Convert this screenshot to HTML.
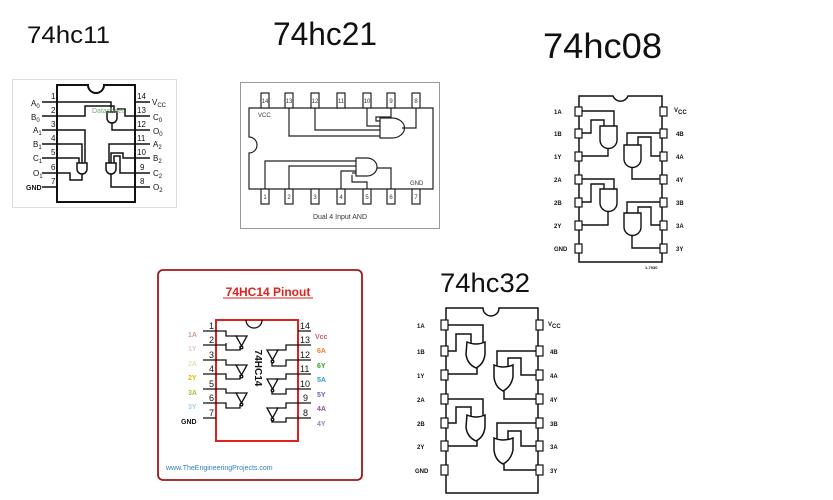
<!DOCTYPE html>
<html><head><meta charset="utf-8"><style>
html,body{margin:0;padding:0;background:#fff;}
svg{display:block;}
text{font-family:"Liberation Sans",sans-serif;}
</style></head><body>
<svg width="833" height="500" viewBox="0 0 833 500" xmlns="http://www.w3.org/2000/svg">
<text x="27" y="43" font-size="24" textLength="83" lengthAdjust="spacingAndGlyphs" fill="#111">74hc11</text>
<text x="273" y="45" font-size="32" textLength="104" lengthAdjust="spacingAndGlyphs" fill="#111">74hc21</text>
<text x="543" y="58" font-size="35" textLength="119" lengthAdjust="spacingAndGlyphs" fill="#111">74hc08</text>
<text x="440" y="292" font-size="27" textLength="90" lengthAdjust="spacingAndGlyphs" fill="#111">74hc32</text>

<rect x="12.5" y="79.5" width="164" height="128" fill="none" stroke="#ddd" stroke-width="1"/>
<g stroke="#111" stroke-width="2" fill="none">
<path d="M57,85 H88 A8,8 0 0 0 104,85 H135 V202 H57 Z"/>
</g>
<g stroke="#111" stroke-width="1.5" fill="none">
<path d="M42,102H57 M42,116H57 M42,130H57 M42,144H57 M42,158H57 M42,173H57 M42,187H57"/>
<path d="M135,102H150 M135,116H150 M135,130H150 M135,144H150 M135,158H150 M135,173H150 M135,187H150"/>
<path d="M107,112 h10 v6 a5,5 0 0 1 -10,0 z"/>
<path d="M57,102 H111 V112 M57,116 H85 V106 H114 V112 M117,109 H125 V116 H135 M112,123 V130 H135"/>
<path d="M77,163 h10 v6 a5,5 0 0 1 -10,0 z"/>
<path d="M57,130 H85 V163 M57,144 H82 V163 M57,158 H79 V163 M82,174 V180 H70 V173 H57"/>
<path d="M106,163 h10 v6 a5,5 0 0 1 -10,0 z"/>
<path d="M135,144 H109 V163 M111,163 V153 H123 V158 H135 M114,163 V156 H120 V173 H135 M111,174 V187 H135"/>
</g>
<text x="92" y="113" font-size="7" fill="#7a7" >Datasheet</text>
<g font-size="8" fill="#111">
<text x="51" y="99">1</text><text x="51" y="113">2</text><text x="51" y="127">3</text><text x="51" y="141">4</text><text x="51" y="155">5</text><text x="51" y="170">6</text><text x="51" y="184">7</text>
<text x="137" y="99">14</text><text x="137" y="113">13</text><text x="137" y="127">12</text><text x="137" y="141">11</text><text x="137" y="155">10</text><text x="140" y="170">9</text><text x="140" y="184">8</text>
<text x="31" y="106">A<tspan font-size="6" dy="2">0</tspan></text>
<text x="31" y="120">B<tspan font-size="6" dy="2">0</tspan></text>
<text x="33" y="133">A<tspan font-size="6" dy="2">1</tspan></text>
<text x="33" y="147">B<tspan font-size="6" dy="2">1</tspan></text>
<text x="33" y="161">C<tspan font-size="6" dy="2">1</tspan></text>
<text x="33" y="176">O<tspan font-size="6" dy="2">1</tspan></text>
<text x="26" y="190" font-size="7" font-weight="bold">GND</text>
<text x="152" y="105">V<tspan font-size="6" dy="2">CC</tspan></text>
<text x="153" y="120">C<tspan font-size="6" dy="2">0</tspan></text>
<text x="153" y="134">O<tspan font-size="6" dy="2">0</tspan></text>
<text x="153" y="147">A<tspan font-size="6" dy="2">2</tspan></text>
<text x="153" y="161">B<tspan font-size="6" dy="2">2</tspan></text>
<text x="153" y="176">C<tspan font-size="6" dy="2">2</tspan></text>
<text x="153" y="190">O<tspan font-size="6" dy="2">2</tspan></text>
</g>

<rect x="240.5" y="82.5" width="199" height="146" fill="none" stroke="#999" stroke-width="1"/>
<g stroke="#222" stroke-width="1.2" fill="#fff">
<path d="M249,108 H433 V189 H249 V153 A8,8 0 0 0 249,137 Z"/>
<rect x="261" y="93" width="8" height="15"/><rect x="285" y="93" width="8" height="15"/><rect x="311" y="93" width="8" height="15"/><rect x="337" y="93" width="8" height="15"/><rect x="363" y="93" width="8" height="15"/><rect x="387" y="93" width="8" height="15"/><rect x="412" y="93" width="8" height="15"/>
<rect x="261" y="189" width="8" height="15"/><rect x="285" y="189" width="8" height="15"/><rect x="311" y="189" width="8" height="15"/><rect x="337" y="189" width="8" height="15"/><rect x="363" y="189" width="8" height="15"/><rect x="387" y="189" width="8" height="15"/><rect x="412" y="189" width="8" height="15"/>
</g>
<g stroke="#222" stroke-width="1.2" fill="none">
<path d="M380,118 H392 A10,8 0 0 1 392,138 H380 Z"/>
<path d="M289,108 V136 H380 M315,108 V130 H380 M367,108 V126 H380 M391,108 V117 H376 V121 H380 M402,128 H416 V108"/>
<path d="M356,158 H367 A10,9 0 0 1 367,176 H356 Z"/>
<path d="M265,189 V161 H356 M289,189 V166 H356 M341,189 V171 H356 M352,175 V182 H367 V189 M356,173 H352 M377,168 H391 V189"/>
</g>
<g font-size="6" fill="#333" text-anchor="middle">
<text x="265" y="103">14</text><text x="289" y="103">13</text><text x="315" y="103">12</text><text x="341" y="103">11</text><text x="367" y="103">10</text><text x="391" y="103">9</text><text x="416" y="103">8</text>
<text x="265" y="199">1</text><text x="289" y="199">2</text><text x="315" y="199">3</text><text x="341" y="199">4</text><text x="367" y="199">5</text><text x="391" y="199">6</text><text x="416" y="199">7</text>
</g>
<text x="258" y="117" font-size="6" fill="#333">VCC</text>
<text x="410" y="185" font-size="6" fill="#333">GND</text>
<text x="340" y="219" font-size="7" fill="#333" text-anchor="middle">Dual 4 Input AND</text>

<g stroke="#111" stroke-width="1.5" fill="none">
<path d="M579,96 H613 A8,8 0 0 0 628,96 H662 V262 H579 Z"/>
</g>
<g stroke="#111" stroke-width="1.2" fill="#fff">
<rect x="575" y="107" width="7" height="9"/><rect x="575" y="129" width="7" height="9"/><rect x="575" y="152" width="7" height="9"/><rect x="575" y="175" width="7" height="9"/><rect x="575" y="198" width="7" height="9"/><rect x="575" y="221" width="7" height="9"/><rect x="575" y="244" width="7" height="9"/>
<rect x="660" y="107" width="7" height="9"/><rect x="660" y="129" width="7" height="9"/><rect x="660" y="152" width="7" height="9"/><rect x="660" y="175" width="7" height="9"/><rect x="660" y="198" width="7" height="9"/><rect x="660" y="221" width="7" height="9"/><rect x="660" y="244" width="7" height="9"/>
</g>
<g stroke="#111" stroke-width="1.4" fill="none">
<path d="M600,126 h17 v14 a8.5,8.5 0 0 1 -17,0 z"/>
<path d="M582,111 H614 V126 M582,133 H591 V120 H604 V126 M608,148 V156 H582"/>
<path d="M624,145 h17 v14 a8.5,8.5 0 0 1 -17,0 z"/>
<path d="M660,133 H627 V145 M660,156 H651 V137 H638 V145 M632,167 V179 H660"/>
<path d="M600,189 h17 v14 a8.5,8.5 0 0 1 -17,0 z"/>
<path d="M582,179 H614 V189 M582,202 H591 V184 H604 V189 M608,211 V225 H582"/>
<path d="M624,213 h17 v14 a8.5,8.5 0 0 1 -17,0 z"/>
<path d="M660,202 H627 V213 M660,225 H651 V207 H638 V213 M632,235 V248 H660"/>
</g>
<g font-size="6" fill="#111" font-weight="bold">
<text x="554" y="114">1A</text><text x="554" y="136">1B</text><text x="554" y="159">1Y</text><text x="554" y="182">2A</text><text x="554" y="205">2B</text><text x="554" y="228">2Y</text><text x="554" y="251">GND</text>
<text x="674" y="112">V<tspan dy="2">CC</tspan></text><text x="676" y="136">4B</text><text x="676" y="159">4A</text><text x="676" y="182">4Y</text><text x="676" y="205">3B</text><text x="676" y="228">3A</text><text x="676" y="251">3Y</text>
<text x="645" y="269" font-size="4">1-7930</text>
</g>

<rect x="158" y="270" width="204" height="210" rx="5" fill="none" stroke="#a01818" stroke-width="1.8"/>
<text x="268" y="296" font-size="12" font-weight="bold" fill="#e0201c" text-anchor="middle">74HC14 Pinout</text>
<line x1="223" y1="298" x2="313" y2="298" stroke="#e0201c" stroke-width="1"/>
<rect x="216" y="320" width="82" height="121" fill="none" stroke="#e0201c" stroke-width="2"/>
<path d="M246,320 A8,8 0 0 0 262,320" fill="none" stroke="#111" stroke-width="1.3"/>
<g stroke="#111" stroke-width="1.3" fill="none">
<path d="M203,331H216 M203,345H216 M203,360H216 M203,374H216 M203,389H216 M203,403H216 M203,418H216"/>
<path d="M298,331H311 M298,345H311 M298,360H311 M298,374H311 M298,389H311 M298,403H311 M298,418H311"/>
<path d="M216,331 H226 V336 H238 M216,345 H226 V343 M240,346 V350 H226 V345"/>
<path d="M236,336 h11 l-5.5,10 z"/><circle cx="241.5" cy="347.5" r="1.3"/>
<path d="M216,360 H226 V365 H238 M216,374 H226 V379 H240 V375"/>
<path d="M236,365 h11 l-5.5,10 z"/><circle cx="241.5" cy="376.5" r="1.3"/>
<path d="M216,389 H226 V393 H238 M216,403 H226 V408 H240 V404"/>
<path d="M236,393 h11 l-5.5,10 z"/><circle cx="241.5" cy="404.5" r="1.3"/>
<path d="M298,345 H286 V350 H276 M298,360 H286 V366 H272 V362"/>
<path d="M267,350 h11 l-5.5,10 z"/><circle cx="272.5" cy="361.5" r="1.3"/>
<path d="M298,374 H286 V379 H276 M298,389 H286 V394 H272 V391"/>
<path d="M267,379 h11 l-5.5,10 z"/><circle cx="272.5" cy="390.5" r="1.3"/>
<path d="M298,403 H286 V408 H276 M298,418 H286 V422 H272 V420"/>
<path d="M267,408 h11 l-5.5,10 z"/><circle cx="272.5" cy="419.5" r="1.3"/>
</g>
<text transform="translate(255,368) rotate(90)" font-size="10" font-weight="bold" fill="#111" text-anchor="middle">74HC14</text>
<g font-size="9" fill="#111">
<text x="209" y="329">1</text><text x="209" y="343">2</text><text x="209" y="358">3</text><text x="209" y="372">4</text><text x="209" y="387">5</text><text x="209" y="401">6</text><text x="209" y="416">7</text>
<text x="300" y="329">14</text><text x="300" y="343">13</text><text x="300" y="358">12</text><text x="300" y="372">11</text><text x="300" y="387">10</text><text x="303" y="401">9</text><text x="303" y="416">8</text>
</g>
<g font-size="7" font-weight="bold">
<text x="188" y="337" fill="#c8a090">1A</text><text x="188" y="351" fill="#f0c0d0">1Y</text><text x="188" y="366" fill="#e8e0b0">2A</text><text x="188" y="380" fill="#e8b800">2Y</text><text x="188" y="395" fill="#a8c040">3A</text><text x="188" y="409" fill="#a0d0e8">3Y</text><text x="181" y="424" fill="#111">GND</text>
<text x="315" y="339" fill="#c06070">Vcc</text><text x="317" y="353" fill="#f08030">6A</text><text x="317" y="368" fill="#30a030">6Y</text><text x="317" y="382" fill="#30a0d0">5A</text><text x="317" y="397" fill="#6060c0">5Y</text><text x="317" y="411" fill="#9050a0">4A</text><text x="317" y="426" fill="#8090b0">4Y</text>
</g>
<text x="166" y="470" font-size="7" fill="#3080c0">www.TheEngineeringProjects.com</text>

<g stroke="#111" stroke-width="1.5" fill="none">
<path d="M446,308 H483 A8,8 0 0 0 499,308 H538 V493 H446 Z"/>
</g>
<g stroke="#111" stroke-width="1.2" fill="#fff">
<rect x="441" y="320" width="7" height="10"/><rect x="441" y="346" width="7" height="10"/><rect x="441" y="370" width="7" height="10"/><rect x="441" y="394" width="7" height="10"/><rect x="441" y="418" width="7" height="10"/><rect x="441" y="441" width="7" height="10"/><rect x="441" y="465" width="7" height="10"/>
<rect x="536" y="320" width="7" height="10"/><rect x="536" y="346" width="7" height="10"/><rect x="536" y="370" width="7" height="10"/><rect x="536" y="394" width="7" height="10"/><rect x="536" y="418" width="7" height="10"/><rect x="536" y="441" width="7" height="10"/><rect x="536" y="465" width="7" height="10"/>
</g>
<g stroke="#111" stroke-width="1.5" fill="none">
<path d="M467,342 Q476,346 485,342 V354 Q484,364 476,368 Q467,364 466,354 Z"/>
<path d="M448,325 H483 V343 M448,351 H456 V334 H471 V344 M477,368 V374 H448"/>
<path d="M494,365 Q503,369 513,365 V377 Q511,387 503,391 Q495,387 494,377 Z"/>
<path d="M536,351 H497 V366 M536,375 H521 V358 H508 V367 M504,391 V399 H536"/>
<path d="M467,415 Q476,419 485,415 V427 Q484,437 476,441 Q467,437 466,427 Z"/>
<path d="M448,399 H483 V416 M448,423 H456 V407 H471 V417 M477,441 V446 H448"/>
<path d="M494,438 Q503,442 513,438 V450 Q511,460 503,464 Q495,460 494,450 Z"/>
<path d="M536,423 H497 V439 M536,446 H521 V431 H508 V440 M504,464 V470 H536"/>
</g>
<g font-size="6" fill="#111" font-weight="bold">
<text x="417" y="328">1A</text><text x="417" y="354">1B</text><text x="417" y="378">1Y</text><text x="417" y="402">2A</text><text x="417" y="426">2B</text><text x="417" y="449">2Y</text><text x="415" y="473">GND</text>
<text x="548" y="326">V<tspan dy="2">CC</tspan></text><text x="550" y="354">4B</text><text x="550" y="378">4A</text><text x="550" y="402">4Y</text><text x="550" y="426">3B</text><text x="550" y="449">3A</text><text x="550" y="473">3Y</text>
</g>
</svg>
</body></html>
